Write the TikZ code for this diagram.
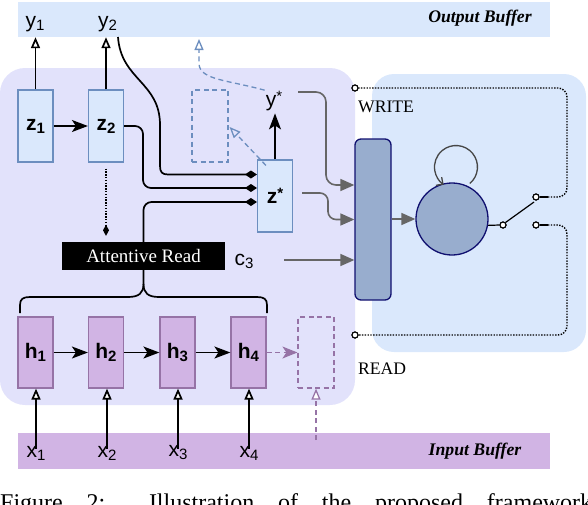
\documentclass[tikz,border=0pt]{standalone}
\usepackage{fontspec}
\setmainfont{Liberation Serif}
\setsansfont{Liberation Sans}
\usetikzlibrary{arrows.meta,calc}
\definecolor{bluefill}{HTML}{DAE8FC}
\definecolor{blueline}{HTML}{6C8EBF}
\definecolor{lavender}{RGB}{226,226,251}
\definecolor{purplefill}{RGB}{209,180,228}
\definecolor{purpleline}{HTML}{9673A6}
\definecolor{agentfill}{RGB}{152,173,206}
\definecolor{navy}{RGB}{16,16,112}
\definecolor{arrowgray}{RGB}{102,102,102}
\definecolor{loopgray}{RGB}{70,70,70}
\newcommand\lsub[1]{\raisebox{-3pt}{\fontsize{15}{15}\selectfont #1}}
\newcommand\lstar{\raisebox{4.5pt}{\fontsize{15}{15}\selectfont *}}
\tikzset{
  sanslbl/.style={font=\sffamily\fontsize{21}{21}\selectfont, inner sep=1pt},
  boldlbl/.style={font=\sffamily\bfseries\fontsize{21}{21}\selectfont},
  seriflbl/.style={font=\fontsize{17.6}{18}\selectfont, inner sep=1pt},
  bufferlbl/.style={font=\bfseries\itshape\fontsize{17.7}{18}\selectfont, inner sep=1pt},
  zbox/.style={draw=blueline, fill=bluefill, line width=1.2pt, minimum width=35, minimum height=72, inner sep=0pt, boldlbl},
  hbox/.style={draw=purpleline, fill=purplefill, line width=1.2pt, minimum width=35, minimum height=71, inner sep=0pt, boldlbl},
  blk/.style={draw=black, line width=1.7pt},
  solidhead/.style={-{Stealth[length=16pt,width=12pt,inset=4pt]}},
  openhead/.style={-{Triangle[length=11pt,width=9pt,fill=white]}},
  diamondhead/.style={-{Diamond[length=12pt,width=8pt]}},
  grayarr/.style={draw=arrowgray, line width=1.6pt, -{Triangle[length=14pt,width=12pt]}},
  bluedash/.style={draw=blueline, line width=1.3pt, dash pattern=on 5pt off 3.5pt},
  purpdash/.style={draw=purpleline, line width=1.3pt, dash pattern=on 5pt off 3.5pt},
  dotline/.style={draw=black, line width=1.4pt, dash pattern=on 1.4pt off 1.4pt},
  port/.style={circle, draw=black, fill=white, line width=1.1pt, minimum size=6pt, inner sep=0pt},
}
\begin{document}
\begin{tikzpicture}[x=1pt,y=-1pt]
\useasboundingbox (0,0) rectangle (588,504);
% backgrounds
\node[fill=bluefill, minimum width=532, minimum height=35, inner sep=0] (outbuf) at (284,19.5) {};
\node[fill=purplefill, minimum width=532, minimum height=36, inner sep=0] (inbuf) at (284,451) {};
\node[fill=lavender, rounded corners=25, minimum width=355, minimum height=337, inner sep=0] (env) at (177.5,236.5) {};
\node[fill=bluefill, rounded corners=22, minimum width=214, minimum height=278, inner sep=0] (agentbg) at (479,213) {};
\node[bufferlbl] (outtxt) at (480,18) {Output Buffer};
\node[bufferlbl] (intxt) at (475,451) {Input Buffer};

% labels
\node[sanslbl] (y1) at (35,24) {y\lsub{1}};
\node[sanslbl] (y2) at (107.5,24) {y\lsub{2}};
\node[sanslbl] (x1) at (36,453) {x\lsub{1}};
\node[sanslbl] (x2) at (107,453) {x\lsub{2}};
\node[sanslbl] (x3) at (178,453) {x\lsub{3}};
\node[sanslbl] (x4) at (249,453) {x\lsub{4}};
\node[sanslbl] (ys) at (274,101) {y\lstar};
\node[sanslbl] (c3) at (244,261) {c\lsub{3}};
\node[seriflbl] (write) at (386,107) {WRITE};
\node[seriflbl] (read) at (382,369) {READ};

% decoder boxes
\node[zbox] (z1) at (35.5,126) {z\lsub{1}};
\node[zbox] (z2) at (106,126) {z\lsub{2}};
\node[zbox] (zs) at (275,196) {z\lstar};
\node[draw=blueline, line width=1.2pt, dash pattern=on 5pt off 3.5pt, minimum width=36, minimum height=72, inner sep=0] (db) at (210,126) {};

% encoder boxes
\node[hbox] (h1) at (35.5,352.5) {h\lsub{1}};
\node[hbox] (h2) at (106,352.5) {h\lsub{2}};
\node[hbox] (h3) at (177.5,352.5) {h\lsub{3}};
\node[hbox] (h4) at (248.5,352.5) {h\lsub{4}};
\node[draw=purpleline, line width=1.2pt, dash pattern=on 5pt off 3.5pt, minimum width=36, minimum height=71, inner sep=0] (hd) at (316,352.5) {};

\node[fill=black, text=white, minimum width=163, minimum height=28, inner sep=0, font=\fontsize{19}{19}\selectfont] (attn) at (143.5,256) {Attentive Read};

% agent
\node[draw=navy, fill=agentfill, rounded corners=6, line width=1.3pt, minimum width=36, minimum height=161, inner sep=0] (unit) at (373,219.5) {};
\node[circle, draw=navy, fill=agentfill, line width=1.3pt, minimum size=72, inner sep=0] (agent) at (452,219) {};
\node[port] (ws) at (355,88) {};
\node[port] (rs) at (355,335) {};
\node[port] (wc) at (536,197) {};
\node[port] (rc) at (536,225) {};
\node[port] (pivot) at (503,225) {};
\coordinate (wj) at (548,197);
\coordinate (rj) at (548,225);
\coordinate (armend) at (534,202);
\coordinate (hdin) at (316,440);

% decoder connections
\draw[blk, solidhead] (z1) -- (z2);
\draw[blk, openhead] (z1.north) -- (z1.north |- outbuf.south);
\draw[blk, openhead] (z2.north) -- (z2.north |- outbuf.south);
\draw[blk, solidhead] (zs.north) -- ++(0,-46);
\coordinate (y2out) at (118,37);
\draw[blk, diamondhead] (y2out) .. controls (121,80) and (160,82) .. (160,125) -- (160,166) .. controls (160,172) and (162,174.5) .. (168,174.5) -- ($(zs.west)+(0,-21.5)$);
\draw[blk, diamondhead, rounded corners=8] (z2.east) -- (143,126) -- (143,188) -- ($(zs.west)+(0,-8)$);
\draw[blk, diamondhead, rounded corners=8] (attn.north) -- (143.5,202) -- ($(zs.west)+(0,6)$);
\draw[dotline, -{Diamond[length=11pt,width=6pt]}, shorten <=6pt, shorten >=6pt] (z2.south) -- (z2.south |- attn.north);
\draw[bluedash, -{Triangle[open,length=11pt,width=9pt]}] (ys.north west) .. controls (228,80) and (200,80) .. (199,64) -- (199,39);
\draw[bluedash, -{Triangle[open,length=11pt,width=9pt]}] ($(zs.north west)+(9,6)$) -- ($(db.east)+(1,1)$);

% encoder connections
\draw[blk, solidhead] (h1) -- (h2);
\draw[blk, solidhead] (h2) -- (h3);
\draw[blk, solidhead] (h3) -- (h4);
\draw[purpdash, -{Stealth[length=15pt,width=12pt,inset=4pt]}] (h4) -- (hd);
\draw[blk, openhead, shorten <=-4pt] (x1.north) -- (x1.north |- h1.south);
\draw[blk, openhead, shorten <=-4pt] (x2.north) -- (x2.north |- h2.south);
\draw[blk, openhead, shorten <=-4pt] (x3.north) -- (x3.north |- h3.south);
\draw[blk, openhead, shorten <=-4pt] (x4.north) -- (x4.north |- h4.south);
\draw[purpdash, -{Triangle[length=11pt,width=9pt,fill=white]}] (hdin) -- (hd.south);
% brace
\draw[blk] (20,313) -- (20,305) .. controls (20,299) and (23,297) .. (30,297) -- (128,297) .. controls (139,297) and (143.5,293) .. (143.5,284) -- (attn.south);
\draw[blk] (267,313) -- (267,305) .. controls (267,299) and (264,297) .. (257,297) -- (159,297) .. controls (148,297) and (143.5,293) .. (143.5,284);

% to agent
\coordinate (ysout) at (298,92);
\coordinate (zsout) at (302,193);
\coordinate (c3out) at (284,260);
\draw[grayarr, rounded corners=10] (ysout) -- (326,92) -- (326,185) -- ($(unit.west)+(0,-34.5)$);
\draw[grayarr, rounded corners=8] (zsout) -- (328,193) -- (328,219.5) -- (unit.west);
\draw[grayarr] (c3out) -- (c3out -| unit.west);
\draw[grayarr] (unit.east |- agent.west) -- (agent.west);
\draw[draw=loopgray, line width=1.3pt, -{Straight Barb[length=5pt,width=10pt]}] (469.8,183.5) arc[start angle=50, end angle=-235, radius=21.5];

% switch and read/write lines
\draw[blk, line width=1.2pt] (agent.-10) -- (pivot.west);
\draw[blk, line width=1.2pt] (pivot.north east) -- (armend);
\draw[blk, line width=1.2pt] (wc.east) -- (wj);
\draw[blk, line width=1.2pt] (rc.east) -- (rj);
\draw[dotline, rounded corners=9] (wj) -- (567,197) -- (567,88) -- (ws.east);
\draw[dotline, rounded corners=9] (rj) -- (567,225) -- (567,335) -- (rs.east);
\node[port] at (ws) {};
\node[port] at (rs) {};
\node[port] at (wc) {};
\node[port] at (rc) {};
\node[port] at (pivot) {};

% caption (cut off at the lower edge, as in the reference)
\begin{scope}
\clip (0,478) rectangle (588,504);
\node[anchor=base west, inner sep=0, font=\fontsize{24}{24}\selectfont] (cap) at (0,510) {\makebox[592pt][s]{Figure 2: Illustration of the proposed framework}};
\end{scope}
\end{tikzpicture}
\end{document}
